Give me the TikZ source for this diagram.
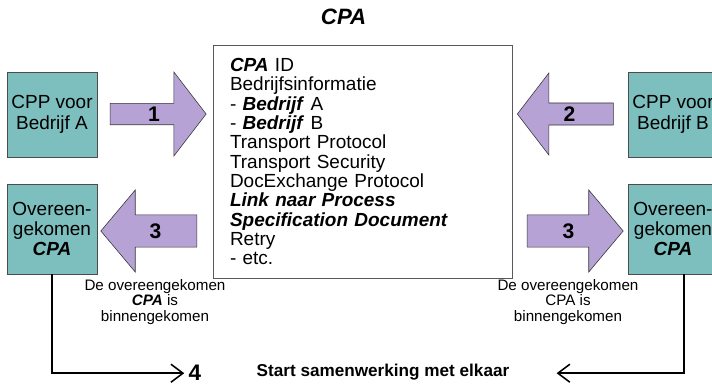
\documentclass[tikz,border=0pt]{standalone}
\usepackage{fontspec}
\setmainfont{Liberation Sans}
\usepackage{xcolor}
\usetikzlibrary{arrows.meta}
\usetikzlibrary{positioning}
\usetikzlibrary{shapes.arrows}
\definecolor{partner}{RGB}{125,190,190}
\definecolor{stap}{RGB}{182,162,212}

\begin{document}
\begin{tikzpicture}[
    partij/.style={draw=black!70, fill=partner, minimum width=2.25cm, minimum height=2.125cm,
      align=center, inner sep=0pt, font=\fontsize{13.5}{14.5}\selectfont},
    stappijl/.style={single arrow, draw=black!80, fill=stap, inner sep=0pt,
      font=\fontsize{15}{15}\selectfont\bfseries, minimum height=2.4cm},
    notitie/.style={align=center, font=\fontsize{10.8}{11}\selectfont},
    lijn/.style={line width=1.1pt, -{Straight Barb[length=0.3cm, width=0.45cm]}}]
    \useasboundingbox (0,0) rectangle (17.8,-9.6);
    \node[font=\fontsize{15.8}{16}\selectfont\bfseries\itshape] (titel) at (8.59,-0.425) {CPA};
    \node[draw=black!65, minimum width=7.475cm, minimum height=5.825cm, inner xsep=0.425cm,
      text width=6.625cm, align=left, font=\fontsize{13.5}{13.75}\selectfont] (cpa) at (9.0625,-4.0375)
      {\textbf{\textit{CPA}} ID\\
       Bedrijfsinformatie\\
       - \textbf{\textit{Bedrijf}} A\\
       - \textbf{\textit{Bedrijf}} B\\
       Transport Protocol\\
       Transport Security\\
       DocExchange Protocol\\
       \textbf{\textit{Link naar Process}}\\
       \textbf{\textit{Specification Document}}\\
       Retry\\
       - etc.};
    \node[partij] (cppA) at (1.3,-2.8625) {CPP voor\\Bedrijf A};
    \node[partij] (cppB) at (16.825,-2.8625) {CPP voor\\Bedrijf B};
    \node[partij, minimum height=2.25cm] (ovA) at (1.3,-5.725) {Overeen-\\gekomen\\\textbf{\textit{CPA}}};
    \node[partij, minimum height=2.25cm] (ovB) at (16.825,-5.725) {Overeen-\\gekomen\\\textbf{\textit{CPA}}};
    \node[stappijl, minimum width=2.1cm, single arrow head extend=0.55cm,
      single arrow tip angle=105] (een) at (3.85,-2.85) {1};
    \node[stappijl, minimum width=2.05cm, single arrow head extend=0.52cm,
      single arrow tip angle=105, shape border rotate=180] (twee) at (14.24,-2.85) {2};
    \node[stappijl, minimum width=2.05cm, single arrow head extend=0.3cm,
      single arrow tip angle=100, shape border rotate=180] (drieA) at (3.89,-5.775) {3};
    \node[stappijl, minimum width=2.05cm, single arrow head extend=0.3cm,
      single arrow tip angle=100] (drieB) at (14.21,-5.775) {3};
    \node[notitie] (notA) at (3.875,-7.55) {De overeengekomen\\\textbf{\textit{CPA}} is\\binnengekomen};
    \node[notitie] (notB) at (14.2,-7.55) {De overeengekomen\\CPA is\\binnengekomen};
    \node[font=\fontsize{16}{16}\selectfont\bfseries, inner sep=1pt] (vier) at (4.875,-9.33) {4};
    \node[font=\fontsize{12.2}{12.2}\selectfont\bfseries, inner sep=0pt] (start) at (9.575,-9.3) {Start samenwerking met elkaar};
    \draw[lijn, shorten >=2pt] (ovA.south) |- (vier.west);
    \draw[lijn, shorten >=1.175cm] ([xshift=0.275cm]ovB.south) |- (start.east |- vier.west);
  \end{tikzpicture}
\end{document}
